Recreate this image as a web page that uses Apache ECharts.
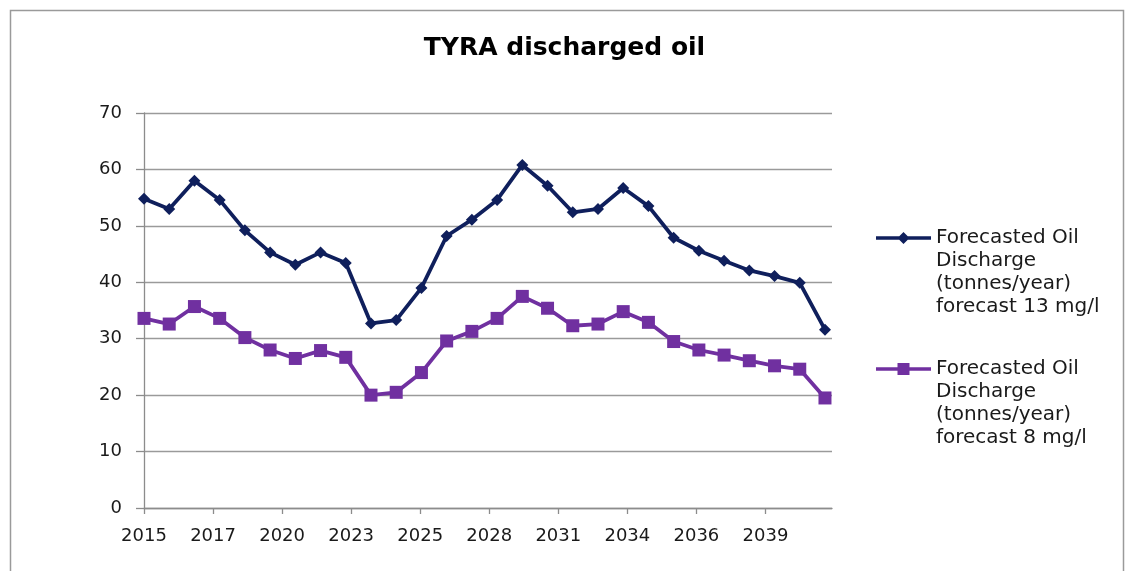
<!DOCTYPE html>
<html>
<head>
<meta charset="utf-8">
<script src="https://cdn.jsdelivr.net/npm/echarts@6/dist/echarts.min.js"></script>
<style>
html,body{margin:0;padding:0;background:#fff;}
#chart{width:1129px;height:571px;}
</style>
</head>
<body>
<div id="chart"></div>
<script>
// ---- data ----
const years = [2015,2016,2017,2018,2019,2020,2021,2022,2023,2024,2025,2026,2027,2028,2029,2030,2031,2032,2033,2034,2035,2036,2037,2038,2039,2040,2041,2042];
const oil13 = [54.8,53.0,58.0,54.6,49.2,45.3,43.1,45.3,43.4,32.7,33.3,39.0,48.2,51.1,54.6,60.8,57.1,52.4,53.0,56.7,53.5,47.9,45.6,43.8,42.1,41.1,39.9,31.6];
const oil8 = [33.6,32.6,35.7,33.6,30.2,28.0,26.5,27.9,26.7,20.0,20.5,24.0,29.6,31.3,33.6,37.5,35.4,32.3,32.6,34.8,32.9,29.5,28.0,27.1,26.1,25.2,24.6,19.5];
const tickLabels = ['2015','2017','2020','2023','2025','2028','2031','2034','2036','2039'];
const seriesNames = [
  'Forecasted Oil\nDischarge\n(tonnes/year)\nforecast 13 mg/l',
  'Forecasted Oil\nDischarge\n(tonnes/year)\nforecast 8 mg/l'
];
const titleText = 'TYRA discharged oil';

// tick spacing of the source date axis: 1000 days
const tickStep = 1000 / 365.25;
const tickValues = tickLabels.map((_, i) => years[0] + i * tickStep);

const FONT = 'DejaVu Sans';
const COL13 = '#0f1f5c';
const COL8 = '#7030a0';
const chart = echarts.init(document.getElementById('chart'), null, {renderer: 'canvas'});

// legend icons: line + marker drawn in the top row of a 55x92 box
const BBOX = ' M0 0 L0.01 0 L0 0.01 Z M55 92 L54.99 92 L55 91.99 Z';
const iconDiamond = 'path://M0 9.7 L55 9.7 L55 13.3 L0 13.3 Z M21.5 11.5 L27.5 5.5 L33.5 11.5 L27.5 17.5 Z' + BBOX;
const iconSquare = 'path://M0 9.7 L55 9.7 L55 13.3 L0 13.3 Z M21.5 5.5 L33.5 5.5 L33.5 17.5 L21.5 17.5 Z' + BBOX;

function legendFor(name, icon, top) {
  return {
    show: true,
    data: [{name: name, icon: icon}],
    orient: 'vertical',
    left: 876,
    top: top,
    padding: 0,
    itemWidth: 55,
    itemHeight: 92,
    itemGap: 0,
    itemStyle: {borderWidth: 0},
    textStyle: {
      fontFamily: FONT,
      fontSize: 20,
      color: '#1a1a1a',
      lineHeight: 23
    }
  };
}

chart.setOption({
  animation: false,
  backgroundColor: '#ffffff',
  title: {
    text: titleText,
    left: 'center',
    top: 31,
    textStyle: {fontFamily: FONT, fontSize: 25, fontWeight: 'bold', color: '#000'}
  },
  legend: [legendFor(seriesNames[0], iconDiamond, 226.5), legendFor(seriesNames[1], iconSquare, 357.5)],
  grid: {left: 144, right: 297, top: 113, bottom: 63, containLabel: false},
  xAxis: {
    type: 'value',
    min: years[0],
    max: years[0] + 10 * tickStep - 0.1,
    splitLine: {show: false},
    axisLine: {show: true, onZero: false, lineStyle: {color: '#8c8c8c', width: 1.3}},
    axisTick: {show: true, length: 6, customValues: tickValues, lineStyle: {color: '#8c8c8c', width: 1.3}},
    axisLabel: {
      customValues: tickValues,
      margin: 19,
      fontFamily: FONT,
      fontSize: 18,
      color: '#1a1a1a',
      formatter: function (v) {
        let best = 0, bd = 1e9;
        tickValues.forEach((t, k) => { const d = Math.abs(t - v); if (d < bd) { bd = d; best = k; } });
        return tickLabels[best];
      }
    }
  },
  yAxis: {
    type: 'value',
    min: 0,
    max: 70,
    interval: 10,
    splitLine: {show: true, lineStyle: {color: '#9a9a9a', width: 1.3}},
    axisLine: {show: true, lineStyle: {color: '#8c8c8c', width: 1.3}},
    axisTick: {show: true, length: 8, lineStyle: {color: '#8c8c8c', width: 1.3}},
    axisLabel: {margin: 22, fontFamily: FONT, fontSize: 18, color: '#1a1a1a'}
  },
  series: [
    {
      name: seriesNames[0],
      type: 'line',
      data: years.map((y, i) => [y, oil13[i]]),
      symbol: 'diamond',
      symbolSize: 12,
      lineStyle: {color: COL13, width: 3.8},
      itemStyle: {color: COL13},
      z: 3
    },
    {
      name: seriesNames[1],
      type: 'line',
      data: years.map((y, i) => [y, oil8[i]]),
      symbol: 'rect',
      symbolSize: 13,
      lineStyle: {color: COL8, width: 3.8},
      itemStyle: {color: COL8},
      z: 2
    }
  ],
  graphic: [
    {
      type: 'rect',
      left: 8, top: 8,
      shape: {width: 1113, height: 600},
      style: {fill: 'none', stroke: '#9a9a9a', lineWidth: 1.5},
      silent: true,
      z: -1
    }
  ]
});
</script>
</body>
</html>
